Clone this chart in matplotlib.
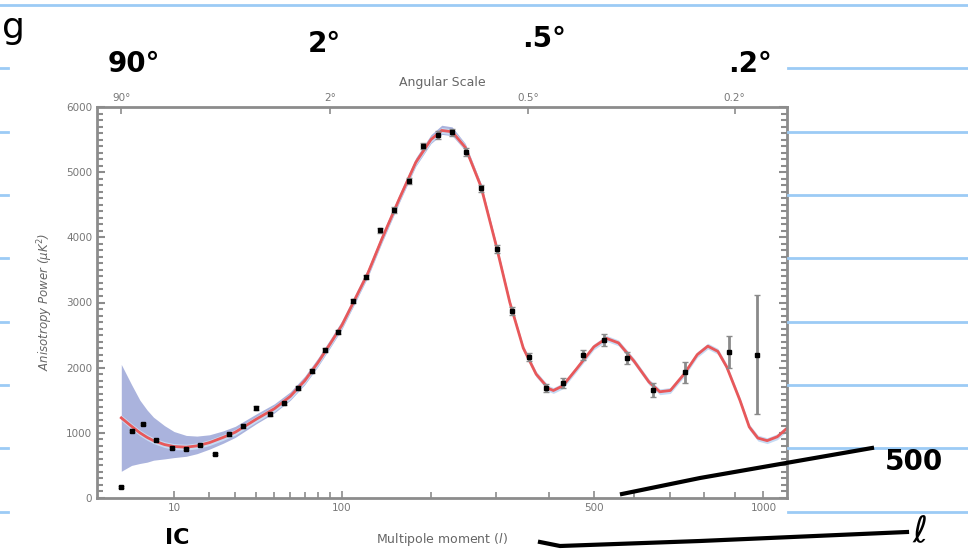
import matplotlib
matplotlib.use('Agg')
import matplotlib.pyplot as plt
import numpy as np
from matplotlib.lines import Line2D

# binned measurements (multipole, power, error)
ell_pts = [2, 3.05, 4.4, 6.4, 9.6, 12.9, 16.8, 21.9, 27.3, 33.5, 39.9, 47.4, 55.8, 65.3,
           75.2, 85.6, 96.5, 110, 123.5, 137.6, 153.5, 171.5, 189.6, 209.5, 229.7, 251,
           275, 302, 329, 360.7, 394, 430, 475, 525, 582, 651, 742, 881, 977]
power_pts = [170, 1030, 1135, 890, 767, 750, 813, 675, 980, 1105, 1380, 1290, 1455, 1690,
             1950, 2270, 2545, 3020, 3390, 4110, 4420, 4860, 5400, 5570, 5610, 5310,
             4750, 3820, 2870, 2160, 1690, 1765, 2195, 2420, 2150, 1660, 1930, 2240, 2200]
err_pts = [20, 20, 20, 20, 20, 20, 20, 20, 25, 25, 25, 25, 25, 30,
           30, 30, 30, 35, 35, 40, 40, 45, 50, 55, 60, 60,
           60, 60, 60, 60, 60, 70, 80, 90, 90, 110, 160, 240, 910]

# best fit model curve
ell_fit = [2, 3, 4, 5, 6, 8, 10, 13, 16, 20, 25, 30, 40, 50, 60, 70, 80, 90, 100, 110,
           125, 140, 160, 180, 200, 215, 230, 250, 275, 300, 325, 350, 375, 400, 410,
           430, 460, 500, 530, 560, 600, 640, 670, 700, 740, 780, 813, 845, 874, 918,
           950, 980, 1013, 1050, 1086]
power_fit = [1230, 1100, 1000, 930, 880, 820, 790, 780, 800, 850, 930, 1010, 1210, 1370,
             1560, 1800, 2080, 2370, 2650, 2980, 3450, 3980, 4600, 5150, 5500, 5640, 5620,
             5380, 4780, 3900, 3000, 2300, 1900, 1680, 1650, 1720, 1980, 2320, 2450, 2380,
             2100, 1780, 1630, 1650, 1900, 2200, 2330, 2250, 2010, 1500, 1090, 920, 880,
             940, 1070]
# cosmic variance band, upper and lower offsets from the curve
band_up = [820, 640, 500, 420, 360, 290, 230, 180, 150, 120, 100, 90, 80, 75,
           70, 70, 70, 70, 70, 70, 70, 70, 70, 70, 75, 80, 75,
           60, 50, 40, 30, 25, 20, 20, 20, 20, 20, 20, 20, 20,
           20, 20, 20, 20, 20, 20, 20, 20, 20, 20, 20, 20, 20, 20, 20]
band_lo = [820, 600, 470, 380, 300, 220, 170, 140, 120, 100, 90, 80, 70, 65,
           60, 60, 60, 60, 60, 60, 60, 60, 60, 60, 60, 60, 60,
           50, 40, 30, 25, 20, 20, 20, 20, 20, 20, 20, 20, 20,
           20, 20, 20, 20, 20, 20, 20, 20, 20, 20, 20, 20, 20, 20, 20]

# top axis: angular scale
ang_ell = [2, 90, 360, 900]
ang_labels = ['90°', '2°', '0.5°', '0.2°']

W, H = 968, 551
fig = plt.figure(figsize=(W / 100, H / 100), dpi=100)
fig.patch.set_facecolor('white')

# notebook ruling
rule_y = [4.5, 68, 132, 195, 258, 322, 385, 448, 512]
for yy in rule_y:
    fy = 1 - yy / H
    if yy < 50:
        fig.add_artist(Line2D([0, 1], [fy, fy], color='#9ccbf5', lw=2))
    else:
        fig.add_artist(Line2D([0, 8 / W], [fy, fy], color='#9ccbf5', lw=2))
        fig.add_artist(Line2D([788 / W, 1], [fy, fy], color='#9ccbf5', lw=2))

ax = fig.add_axes([97 / W, 1 - 498 / H, (787 - 97) / W, (498 - 107) / H])

fwd = lambda x: np.sign(x) * np.abs(x) ** 0.4
inv = lambda x: np.sign(x) * np.abs(x) ** 2.5
ax.set_xscale('function', functions=(fwd, inv))
ax.set_xlim(0.52, 1086)
ax.set_ylim(0, 6000)

ef = np.array(ell_fit)
pf = np.array(power_fit)
ax.fill_between(ef, pf - np.array(band_lo), pf + np.array(band_up), color='#aab3dd',
                lw=0, zorder=1)
ax.fill_between(ef, pf - 45, pf + 45, color='#c6dbf4', lw=0, zorder=1.5)
ax.plot(ef, pf, color='#e8585a', lw=2, zorder=2)
ax.errorbar(ell_pts, power_pts, yerr=err_pts, fmt='s', ms=3.2, color='black',
            ecolor='#8a8a8a', elinewidth=2, capsize=2.5, zorder=3)

gray = '#8c8c8c'
for s in ax.spines.values():
    s.set_color(gray)
    s.set_linewidth(2)

ax.set_xticks([10, 100, 500, 1000])
ax.set_xticklabels(['10', '100', '500', '1000'])
ax.set_xticks([20, 30, 40, 50, 60, 70, 80, 90, 200, 300, 400, 600, 700, 800, 900], minor=True)
ax.set_xticklabels([], minor=True)
ax.set_yticks(np.arange(0, 6001, 1000))
ax.set_yticks(np.arange(0, 6001, 100), minor=True)
ax.tick_params(axis='both', which='both', direction='in', color=gray, labelcolor='#777777',
               labelsize=7.5)
ax.tick_params(axis='y', which='major', length=6, width=1.5, right=True)
ax.tick_params(axis='y', which='minor', length=4, width=1.5, right=True)
ax.tick_params(axis='x', which='major', length=5, width=1.2, top=False)
ax.tick_params(axis='x', which='minor', length=4, width=1.2, top=False)

ax.set_xlabel('Multipole moment ($l$)', fontsize=9, color='#666666', labelpad=13)
ax.set_ylabel('Anisotropy Power (\u03bcK$^2$)', fontsize=8.5, color='#666666', labelpad=8,
              style='italic')

top = ax.twiny()
top.set_xscale('function', functions=(fwd, inv))
top.set_xlim(ax.get_xlim())
top.set_xticks(ang_ell)
top.set_xticklabels(ang_labels)
top.set_xticks([], minor=True)
top.tick_params(direction='in', length=5, width=1.2, color=gray, labelcolor='#777777',
                labelsize=7.5, pad=3)
for s in top.spines.values():
    s.set_visible(False)
top.set_xlabel('Angular Scale', fontsize=9, color='#666666', labelpad=5)

# handwritten notes
hand = dict(color='black', fontsize=20, family='DejaVu Sans', fontweight='bold')
fig.text(108 / W, 1 - 72 / H, '90°', **hand)
fig.text(308 / W, 1 - 52 / H, '2°', **hand)
fig.text(522 / W, 1 - 47 / H, '.5°', **hand)
fig.text(728 / W, 1 - 72 / H, '.2°', **hand)
fig.text(2 / W, 1 - 38 / H, 'g', fontsize=26, color='black')
fig.text(165 / W, 1 - 548 / H, 'IC', color='black', fontsize=16, fontweight='bold',
         va='bottom')
fig.text(885 / W, 1 - 470 / H, '500', **hand)
fig.text(912 / W, 1 - 549 / H, '\u2113', color='black', fontsize=26, va='bottom')
fig.add_artist(Line2D([622 / W, 700 / W, 872 / W], [1 - 494 / H, 1 - 478 / H, 1 - 448 / H],
                      color='black', lw=3))
fig.add_artist(Line2D([540 / W, 560 / W, 700 / W, 907 / W],
                      [1 - 542 / H, 1 - 546 / H, 1 - 541 / H, 1 - 532 / H],
                      color='black', lw=3))

fig.savefig('out.png', dpi=100)
